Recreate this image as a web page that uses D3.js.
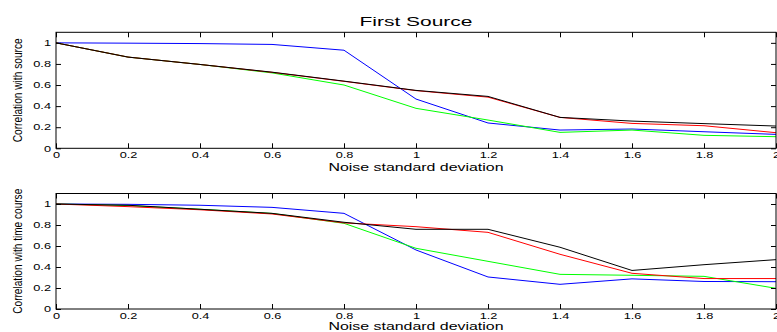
<!DOCTYPE html>
<html>
<head>
<meta charset="utf-8">
<script src="https://cdn.jsdelivr.net/npm/d3@7"></script>
<style>
  html, body { margin: 0; padding: 0; background: #fff; }
  svg { display: block; }
  text { font-family: "Liberation Sans", Arial, Helvetica, sans-serif; fill: #000; }
</style>
</head>
<body>
<svg id="chart" width="777" height="332"></svg>
<script>
// Noise levels on the x axis
const noiseSD = [0, 0.2, 0.4, 0.6, 0.8, 1.0, 1.2, 1.4, 1.6, 1.8, 2.0];
const xTickValues = [0, 0.2, 0.4, 0.6, 0.8, 1.0, 1.2, 1.4, 1.6, 1.8, 2.0];
const yTickValues = [0, 0.2, 0.4, 0.6, 0.8, 1.0];

// Correlation with source (upper panel)
const srcBlue  = [1.0, 0.997, 0.993, 0.985, 0.93, 0.467, 0.24, 0.173, 0.183, 0.157, 0.132];
const srcGreen = [1.0, 0.865, 0.795, 0.715, 0.60, 0.379, 0.268, 0.151, 0.173, 0.123, 0.11];
const srcRed   = [1.0, 0.865, 0.795, 0.72, 0.635, 0.547, 0.485, 0.293, 0.236, 0.214, 0.148];
const srcBlack = [1.0, 0.865, 0.795, 0.722, 0.637, 0.549, 0.492, 0.293, 0.258, 0.234, 0.211];

// Correlation with time course (lower panel)
const tcBlue  = [1.0, 0.997, 0.988, 0.968, 0.911, 0.562, 0.305, 0.235, 0.287, 0.262, 0.26];
const tcGreen = [1.0, 0.985, 0.95, 0.91, 0.816, 0.578, 0.454, 0.33, 0.321, 0.311, 0.197];
const tcRed   = [1.0, 0.975, 0.945, 0.905, 0.82, 0.784, 0.73, 0.521, 0.34, 0.29, 0.29];
const tcBlack = [1.0, 0.988, 0.95, 0.911, 0.826, 0.759, 0.759, 0.588, 0.367, 0.422, 0.47];

const titleText = "First Source";
const xLabelText = "Noise standard deviation";

const svg = d3.select("#chart");
const left = 56, right = 776;

const x = d3.scaleLinear().domain([0, 2]).range([left, right]);
const fmt = d => String(+d.toFixed(1));

// Stretch or squeeze a text element to a target width factor
function stretch(sel, factor) {
  sel.each(function () {
    const w = this.getComputedTextLength();
    d3.select(this).attr("textLength", w * factor).attr("lengthAdjust", "spacingAndGlyphs");
  });
}

function panel(cfg) {
  const y = d3.scaleLinear().domain([0, 1.1]).range([cfg.bottom, cfg.top]);
  const g = svg.append("g");

  // series lines
  const line = d3.line().x((d, i) => x(noiseSD[i])).y(d => y(d));
  cfg.series.forEach(s => {
    g.append("path")
      .datum(s.values)
      .attr("fill", "none")
      .attr("stroke", s.color)
      .attr("stroke-width", 1)
      .attr("d", line);
  });

  // bottom axis with labels
  const xb = g.append("g").attr("transform", `translate(0,${cfg.bottom})`)
    .call(d3.axisBottom(x).tickValues(xTickValues).tickFormat(fmt).tickSize(-5).tickPadding(4));
  xb.select(".domain").remove();
  xb.selectAll("text").style("font-size", "8.5px").call(stretch, 1.5);

  // top axis ticks only
  const xt = g.append("g").attr("transform", `translate(0,${cfg.top})`)
    .call(d3.axisTop(x).tickValues(xTickValues).tickFormat("").tickSize(-5));
  xt.select(".domain").remove();

  // left axis with labels
  const yl = g.append("g").attr("transform", `translate(${left},0)`)
    .call(d3.axisLeft(y).tickValues(yTickValues).tickFormat(fmt).tickSize(-5).tickPadding(5));
  yl.select(".domain").remove();
  yl.selectAll("text").style("font-size", "8.5px").call(stretch, 1.5);

  // right axis ticks only
  const yr = g.append("g").attr("transform", `translate(${right},0)`)
    .call(d3.axisRight(y).tickValues(yTickValues).tickFormat("").tickSize(-5));
  yr.select(".domain").remove();

  g.selectAll(".tick line").attr("stroke", "#000");

  // frame
  g.append("rect")
    .attr("x", left).attr("y", cfg.top)
    .attr("width", right - left).attr("height", cfg.bottom - cfg.top)
    .attr("fill", "none").attr("stroke", "#000").attr("stroke-width", 1);

  // x label
  g.append("text")
    .attr("x", (left + right) / 2).attr("y", cfg.xLabelY)
    .attr("text-anchor", "middle")
    .style("font-size", "11.5px")
    .attr("textLength", 175).attr("lengthAdjust", "spacingAndGlyphs")
    .text(xLabelText);

  // y label
  const cy = (cfg.top + cfg.bottom) / 2;
  g.append("text")
    .attr("transform", `translate(21.5,${cy}) rotate(-90)`)
    .attr("text-anchor", "middle")
    .style("font-size", "13px")
    .attr("textLength", cfg.yLabelLen).attr("lengthAdjust", "spacingAndGlyphs")
    .text(cfg.yLabel);

  return g;
}

panel({
  top: 32.3, bottom: 148.3, xLabelY: 170.5,
  yLabel: "Correlation with source", yLabelLen: 104,
  series: [
    { values: srcBlue, color: "#0000ff" },
    { values: srcGreen, color: "#00ff00" },
    { values: srcRed, color: "#ff0000" },
    { values: srcBlack, color: "#000000" }
  ]
});

panel({
  top: 193.5, bottom: 309, xLabelY: 329.5,
  yLabel: "Correlation with time course", yLabelLen: 125,
  series: [
    { values: tcBlue, color: "#0000ff" },
    { values: tcGreen, color: "#00ff00" },
    { values: tcRed, color: "#ff0000" },
    { values: tcBlack, color: "#000000" }
  ]
});

// title
svg.append("text")
  .attr("x", (left + right) / 2).attr("y", 25.7)
  .attr("text-anchor", "middle")
  .style("font-size", "12.5px")
  .attr("textLength", 113).attr("lengthAdjust", "spacingAndGlyphs")
  .text(titleText);
</script>
</body>
</html>
